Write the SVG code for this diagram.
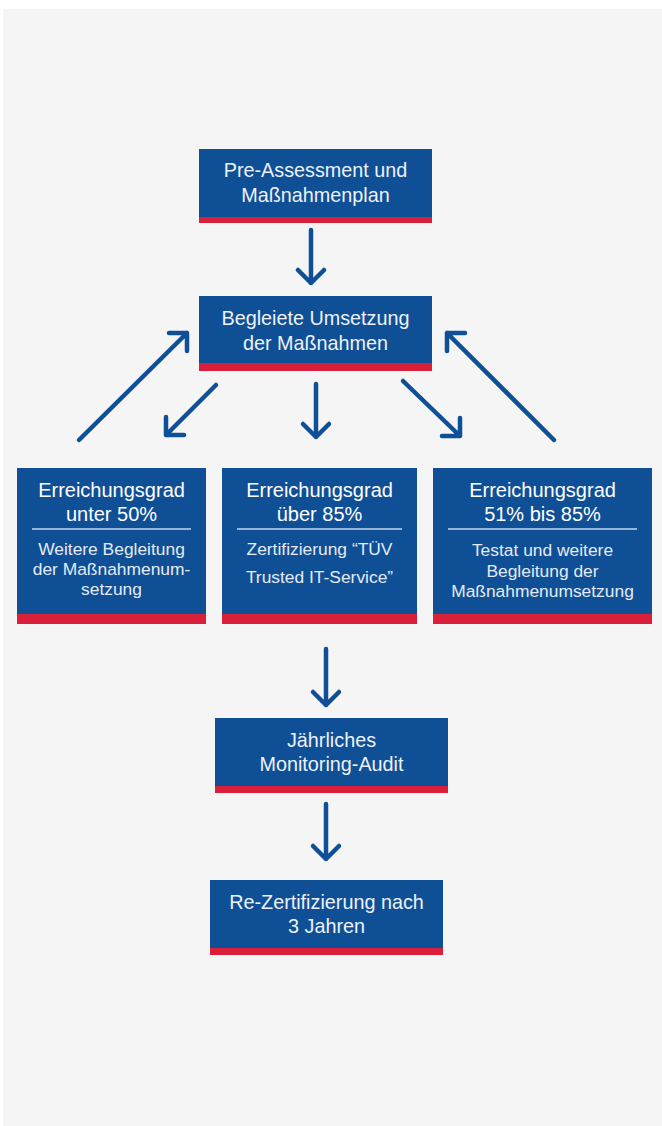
<svg xmlns="http://www.w3.org/2000/svg" width="662" height="1126" viewBox="0 0 662 1126">
<style>
.box{fill:#0f4f96}
.bar{fill:#d91f3a}
.t{font-family:"Liberation Sans",Arial,sans-serif;fill:#ffffff;text-anchor:middle}
.m{font-size:19.8px;fill:#eef2f8}
.h{font-size:20px}
.s{font-size:17.4px;fill:#e4ebf4}
.div{stroke:#c9d6e8;stroke-width:1.5}
.arr{fill:none;stroke:#0f4f96;stroke-width:4.5;stroke-linecap:round;stroke-linejoin:round}
</style>
<rect x="0" y="0" width="662" height="1126" fill="#ffffff"/>
<rect x="3" y="9" width="659" height="1117" fill="#f5f5f5"/>

<g id="connectors">
<path class="arr" d="M311 230 V283 M298 270 L311 283 L324 270"/>
<path class="arr" d="M79 440 L187 333 M169 333 H187 V351"/>
<path class="arr" d="M216 385 L166 435 M166 417 V435 H184"/>
<path class="arr" d="M316 384 V437 M303 424 L316 437 L329 424"/>
<path class="arr" d="M403 381 L460 436 M460 418 V436 H442"/>
<path class="arr" d="M554 440 L447 333 M465 333 H447 V351"/>
<path class="arr" d="M326 649 V705 M313 692 L326 705 L339 692"/>
<path class="arr" d="M326 804 V859 M313 846 L326 859 L339 846"/>
</g>

<g id="node-pre-assessment">
<rect class="box" x="199" y="149" width="233" height="68"/>
<rect class="bar" x="199" y="217" width="233" height="6"/>
<text class="t m" x="315.5" y="177">Pre-Assessment und</text>
<text class="t m" x="315.5" y="202">Maßnahmenplan</text>
</g>

<g id="node-umsetzung">
<rect class="box" x="199" y="296" width="233" height="67"/>
<rect class="bar" x="199" y="363" width="233" height="8"/>
<text class="t m" x="315.5" y="325">Begleiete Umsetzung</text>
<text class="t m" x="315.5" y="350">der Maßnahmen</text>
</g>

<g id="node-unter50">
<rect class="box" x="17" y="468" width="189" height="146"/>
<rect class="bar" x="17" y="614" width="189" height="10"/>
<text class="t h" x="111.5" y="497">Erreichungsgrad</text>
<text class="t h" x="111.5" y="521">unter 50%</text>
<line class="div" x1="32" y1="529" x2="191" y2="529"/>
<text class="t s" x="111.5" y="555">Weitere Begleitung</text>
<text class="t s" x="111.5" y="575">der Maßnahmenum-</text>
<text class="t s" x="111.5" y="595">setzung</text>
</g>

<g id="node-ueber85">
<rect class="box" x="222" y="468" width="195" height="146"/>
<rect class="bar" x="222" y="614" width="195" height="10"/>
<text class="t h" x="319.5" y="497">Erreichungsgrad</text>
<text class="t h" x="319.5" y="521">über 85%</text>
<line class="div" x1="237" y1="529" x2="402" y2="529"/>
<text class="t s" x="319.5" y="555">Zertifizierung “TÜV</text>
<text class="t s" x="319.5" y="583">Trusted IT-Service”</text>
</g>

<g id="node-51bis85">
<rect class="box" x="433" y="468" width="219" height="146"/>
<rect class="bar" x="433" y="614" width="219" height="10"/>
<text class="t h" x="542.5" y="497">Erreichungsgrad</text>
<text class="t h" x="542.5" y="521">51% bis 85%</text>
<line class="div" x1="448" y1="529" x2="637" y2="529"/>
<text class="t s" x="542.5" y="556">Testat und weitere</text>
<text class="t s" x="542.5" y="577">Begleitung der</text>
<text class="t s" x="542.5" y="597">Maßnahmenumsetzung</text>
</g>

<g id="node-monitoring">
<rect class="box" x="215" y="718" width="233" height="68"/>
<rect class="bar" x="215" y="786" width="233" height="7"/>
<text class="t m" x="331.5" y="747">Jährliches</text>
<text class="t m" x="331.5" y="771">Monitoring-Audit</text>
</g>

<g id="node-rezertifizierung">
<rect class="box" x="210" y="880" width="233" height="68"/>
<rect class="bar" x="210" y="948" width="233" height="7"/>
<text class="t m" x="326.5" y="909">Re-Zertifizierung nach</text>
<text class="t m" x="326.5" y="933">3 Jahren</text>
</g>
</svg>
